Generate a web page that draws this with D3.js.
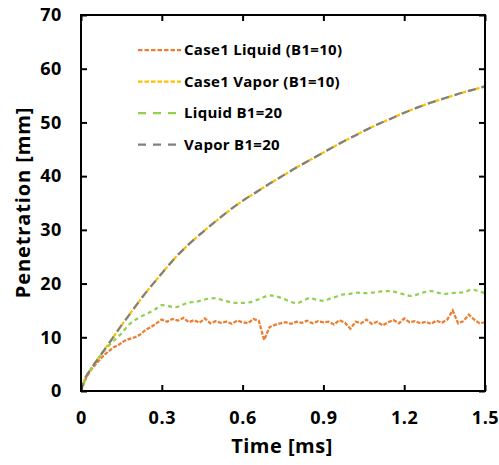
<!DOCTYPE html>
<html><head><meta charset="utf-8">
<script src="https://cdn.jsdelivr.net/npm/d3@7"></script>
<style>body{margin:0;background:#fff}svg{display:block}</style>
</head><body>
<svg id="c" width="499" height="465"></svg>
<script>
// ---- data ----
const xTicks = [0, 0.3, 0.6, 0.9, 1.2, 1.5];
const yTicks = [0, 10, 20, 30, 40, 50, 60, 70];
const seriesNames = ["Case1 Liquid (B1=10)", "Case1 Vapor (B1=10)", "Liquid B1=20", "Vapor B1=20"];

const vaporTime = [0,0.01,0.02,0.04,0.06,0.08,0.1,0.125,0.15,0.175,0.2,0.225,0.25,0.275,0.3,0.35,0.4,0.45,0.5,0.55,0.6,0.65,0.7,0.75,0.8,0.85,0.9,0.95,1.0,1.05,1.1,1.15,1.2,1.25,1.3,1.35,1.4,1.45,1.5];
const vaporB10 = [0,1.8,2.8,4.3,5.8,7.2,8.6,10.4,12.2,13.9,15.6,17.3,18.9,20.4,21.9,24.8,27.3,29.5,31.6,33.6,35.4,37.0,38.6,40.1,41.6,43.0,44.4,45.8,47.1,48.4,49.6,50.7,51.8,52.8,53.7,54.5,55.3,56.0,56.7];
const vaporB20 = [0,1.8,2.8,4.3,5.8,7.2,8.6,10.4,12.2,13.9,15.6,17.3,18.9,20.4,21.9,24.8,27.3,29.5,31.6,33.6,35.4,37.0,38.6,40.1,41.6,43.0,44.4,45.8,47.1,48.4,49.6,50.7,51.8,52.8,53.7,54.5,55.3,56.0,56.7];

const liquidB10Time = [0,0.02,0.04,0.06,0.08,0.10,0.12,0.14,0.16,0.18,0.20,0.22,0.24,0.26,0.28,0.30,0.32,0.34,0.36,0.38,0.40,0.42,0.44,0.46,0.48,0.50,0.52,0.54,0.56,0.58,0.60,0.62,0.64,0.66,0.68,0.70,0.72,0.74,0.76,0.78,0.80,0.82,0.84,0.86,0.88,0.90,0.92,0.94,0.96,0.98,1.00,1.02,1.04,1.06,1.08,1.10,1.12,1.14,1.16,1.18,1.20,1.22,1.24,1.26,1.28,1.30,1.32,1.34,1.36,1.38,1.40,1.42,1.44,1.46,1.48,1.50];
const liquidB10 = [0,2.6,4.1,5.3,6.4,7.3,8.1,8.6,9.3,9.7,10.0,10.5,11.4,11.9,12.6,13.3,12.9,13.4,13.1,13.6,12.8,13.2,12.7,13.5,12.6,13.0,12.7,12.9,12.5,13.1,12.8,12.6,13.4,13.1,9.5,11.9,12.3,12.6,12.8,12.5,12.9,12.7,13.1,12.6,13.0,12.8,12.9,12.4,13.2,12.7,11.6,12.9,12.6,13.3,12.5,12.9,12.2,12.8,13.2,12.6,13.5,12.8,13.0,12.6,12.9,12.5,13.1,12.7,13.3,15.0,12.6,13.0,14.2,13.3,12.6,12.8];

const liquidB20Time = [0,0.025,0.05,0.075,0.1,0.125,0.15,0.175,0.2,0.225,0.25,0.275,0.3,0.325,0.35,0.375,0.4,0.425,0.45,0.475,0.5,0.525,0.55,0.575,0.6,0.625,0.65,0.675,0.7,0.725,0.75,0.775,0.8,0.825,0.85,0.875,0.9,0.925,0.95,0.975,1.0,1.025,1.05,1.075,1.1,1.125,1.15,1.175,1.2,1.225,1.25,1.275,1.3,1.325,1.35,1.375,1.4,1.425,1.45,1.475,1.5];
const liquidB20 = [0,3.2,5.0,6.8,8.3,9.5,10.7,12.2,13.2,13.9,14.5,15.2,16.0,15.8,15.6,16.0,16.5,16.6,16.9,17.2,17.3,16.9,16.6,16.4,16.4,16.5,16.9,17.4,17.8,17.6,17.2,16.7,16.3,16.8,17.3,17.0,16.8,17.2,17.6,18.0,18.1,18.3,18.2,18.3,18.4,18.6,18.6,18.3,18.0,17.7,18.0,18.4,18.6,18.3,18.1,18.2,18.3,18.4,18.9,18.6,18.2];

// ---- chart ----
const svg = d3.select("#c");
const L = 81, R = 485, T = 15, B = 391;
const x = d3.scaleLinear().domain([0, 1.5]).range([L, R]);
const y = d3.scaleLinear().domain([0, 70]).range([B, T]);
const font = "'Open Sans', Lato, sans-serif";

const zip = (ts, vs) => ts.map((t, i) => [t, vs[i]]);
const lineSmooth = d3.line().x(d => x(d[0])).y(d => y(d[1])).curve(d3.curveMonotoneX);
const lineLin = d3.line().x(d => x(d[0])).y(d => y(d[1]));

const series = [
  {name: seriesNames[0], data: zip(liquidB10Time, liquidB10), color: "#ED7D31", dash: "4,1.5", legDash: "4.5,2", gen: lineLin},
  {name: seriesNames[1], data: zip(vaporTime, vaporB10), color: "#FFC000", dash: "5,2", legDash: "4.5,2", gen: lineSmooth},
  {name: seriesNames[2], data: zip(liquidB20Time, liquidB20), color: "#92D050", dash: "4,3.5", legDash: "8,7", gen: lineSmooth},
  {name: seriesNames[3], data: zip(vaporTime, vaporB20), color: "#808080", dash: "8,6", legDash: "8,7", gen: lineSmooth}
];

const plot = svg.append("g");
series.forEach(s => {
  plot.append("path").attr("d", s.gen(s.data)).attr("fill", "none")
    .attr("stroke", s.color).attr("stroke-width", 2.25).attr("stroke-dasharray", s.dash);
});

// frame
svg.append("rect").attr("x", L).attr("y", T).attr("width", R - L).attr("height", B - T)
  .attr("fill", "none").attr("stroke", "#000").attr("stroke-width", 2);

// axes with inward ticks
const axB = d3.axisBottom(x).tickValues(xTicks).tickSize(-6).tickPadding(20).tickFormat(d => d === 0 ? "0" : d3.format(".1f")(d));
const axT = d3.axisTop(x).tickValues(xTicks).tickSize(-6).tickFormat("");
const axL = d3.axisLeft(y).tickValues(yTicks).tickSize(-6).tickPadding(19);
const axR = d3.axisRight(y).tickValues(yTicks).tickSize(-6).tickFormat("");
[[axB, `translate(0,${B})`], [axT, `translate(0,${T})`], [axL, `translate(${L},0)`], [axR, `translate(${R},0)`]].forEach(([a, tr]) => {
  const g = svg.append("g").attr("transform", tr).call(a);
  g.select(".domain").remove();
  g.selectAll(".tick line").attr("stroke", "#000").attr("stroke-width", 2);
  g.selectAll("text").attr("fill", "#000").style("font-family", font).style("font-weight", "bold")
    .style("font-size", "18px").style("letter-spacing", "0.6px");
});

// axis titles
svg.append("text").attr("x", 282).attr("y", 453).attr("text-anchor", "middle")
  .style("font-family", font).style("font-weight", "bold").style("font-size", "20px").style("letter-spacing", "0.5px").text("Time [ms]");
svg.append("text").attr("transform", `translate(30,202.5) rotate(-90)`).attr("text-anchor", "middle")
  .style("font-family", font).style("font-weight", "bold").style("font-size", "20px").style("letter-spacing", "0.9px").text("Penetration [mm]");

// legend
const legY = [50, 81.5, 113, 144.5];
series.forEach((s, i) => {
  const g = svg.append("g").attr("transform", `translate(0,${legY[i]})`);
  g.append("line").attr("x1", 138).attr("x2", 181).attr("y1", 0).attr("y2", 0)
    .attr("stroke", s.color).attr("stroke-width", 2.25).attr("stroke-dasharray", s.legDash);
  g.append("text").attr("x", 184).attr("y", 0).attr("dy", "0.36em")
    .style("font-family", font).style("font-weight", "bold").style("font-size", "15px").style("letter-spacing", "0.3px")
    .attr("fill", "#000").text(s.name);
});
</script>
</body></html>
